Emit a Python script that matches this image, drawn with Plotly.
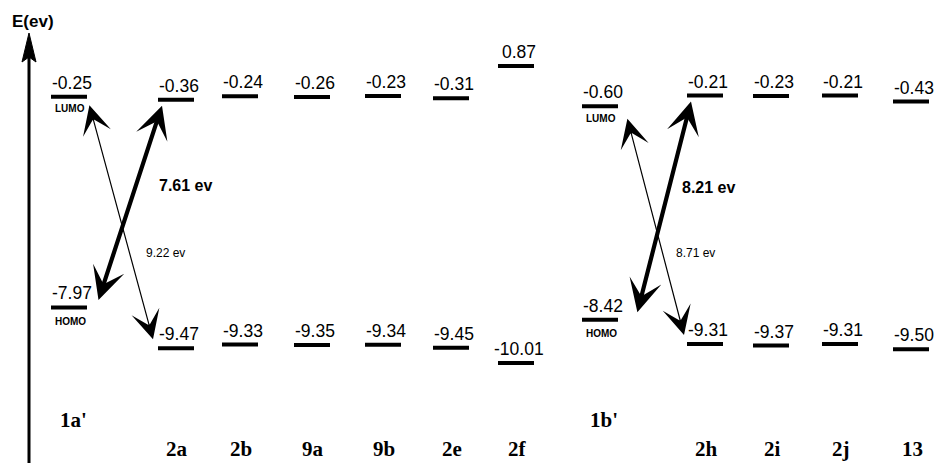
import plotly.graph_objects as go

# ---------------- data ----------------
compounds = ["1a'", "2a", "2b", "9a", "9b", "2e", "2f", "1b'", "2h", "2i", "2j", "13"]
lumo = [-0.25, -0.36, -0.24, -0.26, -0.23, -0.31, 0.87, -0.60, -0.21, -0.23, -0.21, -0.43]
homo = [-7.97, -9.47, -9.33, -9.35, -9.34, -9.45, -10.01, -8.42, -9.31, -9.37, -9.31, -9.50]
references = ["1a'", "1b'"]
# transitions: (from compound HOMO/LUMO -> to compound LUMO/HOMO), bold flag
transitions = [("1a'", "homo", "2a", "lumo", True),
               ("1a'", "lumo", "2a", "homo", False),
               ("1b'", "homo", "2h", "lumo", True),
               ("1b'", "lumo", "2h", "homo", False)]

# ---------------- layout constants ----------------
W, H = 940, 463
col_x = [69, 176, 240, 312, 383, 451, 516, 600, 705, 771, 840, 911]
BAR_HALF = 18
Y_RANGE = [-13.67, 3.29]
EV_PER_PX = (Y_RANGE[1] - Y_RANGE[0]) / H

def px(n):
    return n * EV_PER_PX

idx = {c: i for i, c in enumerate(compounds)}
level = {"homo": homo, "lumo": lumo}

fig = go.Figure()

# energy level bars
bx, by = [], []
for i, c in enumerate(compounds):
    for e in (lumo[i], homo[i]):
        bx += [col_x[i] - BAR_HALF, col_x[i] + BAR_HALF, None]
        by += [e, e, None]
fig.add_trace(go.Scatter(x=bx, y=by, mode="lines",
                         line=dict(color="black", width=4),
                         hoverinfo="skip", showlegend=False))

ann = []
NUMFONT = dict(family="Liberation Sans, Arial", size=17.5, color="black")
for i, c in enumerate(compounds):
    for e in (lumo[i], homo[i]):
        ann.append(dict(x=col_x[i], y=e, xref="x", yref="y", text=f"{e:.2f}",
                        showarrow=False, yshift=14, xshift=3, font=NUMFONT))
    if c in references:
        ann.append(dict(x=col_x[i], y=lumo[i], xref="x", yref="y", text="<b>LUMO</b>",
                        showarrow=False, yshift=-12, xshift=1,
                        font=dict(family="Liberation Sans, Arial", size=10, color="black")))
        ann.append(dict(x=col_x[i], y=homo[i], xref="x", yref="y", text="<b>HOMO</b>",
                        showarrow=False, yshift=-14, xshift=1,
                        font=dict(family="Liberation Sans, Arial", size=10, color="black")))

# compound labels
SERIF = dict(family="Liberation Serif, Times New Roman", size=21, color="black")
for i, c in enumerate(compounds):
    ypix = 420 if c in references else 449
    ann.append(dict(x=col_x[i] + (4 if c in references else 1), y=1 - ypix / H,
                    xref="x", yref="paper", xanchor="center", yanchor="middle",
                    text=f"<b>{c}</b>", showarrow=False, font=SERIF))

# transition arrows
for (a, la, b, lb, bold) in transitions:
    ia, ib = idx[a], idx[b]
    ea, eb = level[la][ia], level[lb][ib]
    gap = abs(eb - ea)
    if la == "homo":
        ax_, ay_ = col_x[ia] + BAR_HALF + (11 if ia == 0 else 19), ea + px(6)
        x_, y_ = col_x[ib] - BAR_HALF + 4, eb - px(6)
    else:
        ax_, ay_ = col_x[ia] + BAR_HALF + (2 if ia == 0 else 9), ea - px(7 if ia == 0 else 11)
        x_, y_ = col_x[ib] - BAR_HALF - 5 + (0 if ia == 0 else 2), eb + px(9)
    ann.append(dict(x=x_, y=y_, ax=ax_, ay=ay_, xref="x", yref="y", axref="x", ayref="y",
                    text="", showarrow=True, arrowside="end+start",
                    arrowhead=3, startarrowhead=3,
                    arrowwidth=4.2 if bold else 1.2,
                    arrowsize=1.3 if bold else 4.0,
                    startarrowsize=1.3 if bold else 4.0,
                    arrowcolor="black"))
    if bold:
        lx, ly = (x_ + 23, (ea + eb) / 2 + px(18)) if ia == 0 else (x_ + 17, (ea + eb) / 2 + px(20))
        ann.append(dict(x=lx, y=ly, xref="x", yref="y", text=f"<b>{gap:.2f} ev</b>",
                        showarrow=False, font=dict(family="Liberation Sans, Arial", size=16, color="black")))
    else:
        lx = (col_x[ia] + col_x[ib]) / 2 + 43
        ann.append(dict(x=lx, y=1 - 253 / H, xref="x", yref="paper", xanchor="center", yanchor="middle",
                        text=f"{gap:.2f} ev", showarrow=False,
                        font=dict(family="Liberation Sans, Arial", size=12, color="black")))

# energy axis (vertical arrow) and label
AX_X = 29
shapes = [
    dict(type="line", xref="x", yref="paper", x0=AX_X, x1=AX_X, y0=0, y1=1 - 55 / H,
         line=dict(color="black", width=3)),
    dict(type="path", xref="x", yref="paper",
         path=f"M {AX_X - 7} {1 - 62 / H} L {AX_X} {1 - 33 / H} L {AX_X + 7} {1 - 62 / H} L {AX_X} {1 - 57 / H} Z",
         fillcolor="black", line=dict(color="black", width=1)),
]
ann.append(dict(x=33, y=1 - 21 / H, xref="x", yref="paper", xanchor="center", yanchor="middle",
                text="<b>E(ev)</b>", showarrow=False,
                font=dict(family="Liberation Sans, Arial", size=17, color="black")))

fig.update_layout(
    width=W, height=H, margin=dict(l=0, r=0, t=0, b=0),
    paper_bgcolor="white", plot_bgcolor="white",
    xaxis=dict(range=[0, W], visible=False, fixedrange=True),
    yaxis=dict(range=Y_RANGE, visible=False, fixedrange=True),
    annotations=ann, shapes=shapes, showlegend=False,
)

fig.write_html("out.html", config={"displayModeBar": False},
               post_script="document.body.style.margin='0';document.body.style.overflow='hidden';")
